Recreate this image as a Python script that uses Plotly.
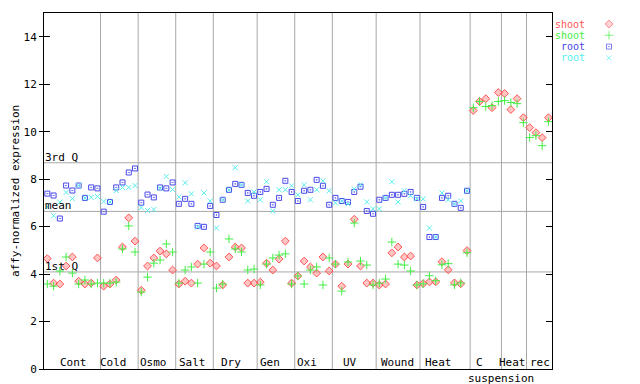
import plotly.graph_objects as go

# ---------------- data ----------------
groups = ["Cont", "Cold", "Osmo", "Salt", "Dry", "Gen", "Oxi", "UV", "Wound", "Heat", "C", "Heat", "rec"]
group_sizes = [9, 6, 6, 6, 7, 6, 6, 7, 7, 8, 5, 4, 4]

shoot_red = [
    4.65, 3.62, 3.58, 4.34, 4.72, 3.70, 3.58, 3.62, 4.68,
    3.49, 3.58, 3.75, 5.14, 6.37, 5.39,
    3.32, 4.34, 4.68, 4.97, 4.85, 4.17,
    3.58, 3.70, 3.62, 4.42, 5.10, 4.46,
    4.34, 3.54, 4.72, 5.14, 5.10, 3.62, 3.62,
    3.66, 4.46, 4.17, 4.63, 5.39, 3.62,
    3.92, 4.55, 4.30, 4.04, 4.72, 4.13,
    4.42, 3.49, 4.42, 6.31, 4.34, 3.62, 3.62,
    3.54, 3.58, 4.89, 5.14, 4.72, 4.76, 3.54,
    3.60, 3.67, 3.67, 4.52, 4.18, 3.63, 3.59, 4.99,
    10.89, 11.27, 11.39, 11.01, 11.65,
    11.61, 10.93, 11.39, 10.59,
    10.17, 9.96, 9.75, 10.59,
]
shoot_green = [
    3.58, 3.49, 4.13, 4.72, 4.04, 3.58, 3.75, 3.58, 3.62,
    3.62, 3.62, 3.66, 5.06, 6.03, 4.93,
    3.24, 3.87, 4.46, 4.59, 5.27, 4.93,
    3.62, 4.17, 4.30, 3.62, 4.42, 4.93,
    3.41, 3.58, 5.48, 5.06, 4.93, 4.17, 4.21,
    3.54, 4.42, 4.68, 4.80, 4.85, 3.58,
    3.92, 3.58, 4.17, 4.30, 3.54, 4.68,
    4.42, 3.28, 4.51, 6.15, 4.55, 4.38, 3.54,
    3.62, 3.79, 5.35, 4.42, 4.38, 4.13, 3.54,
    3.59, 3.93, 3.72, 4.39, 4.44, 3.55, 3.63, 4.90,
    11.01, 11.27, 11.06, 11.10, 11.27,
    11.31, 11.23, 11.18, 10.38,
    9.75, 9.83, 9.41, 10.42,
]
root_blue = [
    7.39, 7.31, 6.34, 7.73, 7.52, 7.73, 7.21, 7.65, 7.61,
    6.63, 7.04, 7.65, 7.86, 8.28, 8.45,
    7.01, 7.35, 7.23, 7.65, 7.61, 7.86,
    6.96, 7.17, 6.96, 6.03, 5.99, 6.87,
    6.49, 7.13, 7.55, 7.80, 7.76, 7.42, 7.30,
    7.46, 7.59, 6.92, 7.21, 7.93, 7.46,
    7.08, 7.51, 7.55, 7.97, 7.72, 6.92,
    7.21, 7.08, 7.04, 7.46, 7.68, 6.66, 6.54,
    7.13, 7.21, 7.34, 7.34, 7.38, 7.46, 7.21,
    6.83, 5.56, 5.56, 7.21, 7.30, 6.96, 6.79, 7.51,
]
root_cyan = [
    6.83, 6.46, 7.03, 7.44, 7.18, 7.73, 7.21, 7.23, 7.27,
    7.06, 7.04, 7.52, 7.65, 7.65, 7.73,
    6.80, 6.68, 6.72, 7.61, 8.11, 7.56,
    7.25, 7.85, 7.38, 5.99, 7.42, 7.08,
    5.94, 7.13, 7.55, 8.48, 7.76, 7.08, 7.46,
    7.13, 7.89, 6.66, 7.55, 7.55, 7.72,
    7.34, 7.76, 7.13, 7.55, 7.93, 7.51,
    7.00, 7.08, 6.96, 7.59, 7.76, 7.04, 6.75,
    6.75, 7.21, 7.89, 7.04, 7.51, 7.30, 7.17,
    7.17, 5.94, 5.56, 7.42, 7.13, 6.96, 7.08, 7.51,
]
stat_names = ["1st Q", "mean", "3rd Q"]
stat_values = [4.09, 6.64, 8.69]
series_names = ["shoot", "shoot", "root", "root"]
y_ticks = [0, 2, 4, 6, 8, 10, 12, 14]

# ---------------- styling ----------------
FONT = "DejaVu Sans Mono"
colors = ["#ff5555", "#44ee44", "#4848e8", "#55eeee"]
symbols = ["diamond", "cross-thin-open", "square-open-dot", "x-thin-open"]
fills = ["rgba(255,85,85,0.35)", "#44ee44", "#4848e8", "#55eeee"]
sizes = [6, 6, 5, 5]
label_x = [4.2, 10.55, 16.96, 23.14, 29.4, 35.54, 41.5, 48.3, 55.88, 62.5, 69.04, 74.25, 78.73]

# page has an 8px body margin: figure is 632x376 placed at (8,8)
OFF = 8
PLOT_L = 44 - OFF
PLOT_W = 508
PAPER_W = 632 - PLOT_L
xdom = PLOT_W / PAPER_W

fig = go.Figure()

all_series = [shoot_red, shoot_green, root_blue, root_cyan]
for vals, name, col, sym, fill, sz in zip(all_series, series_names, colors, symbols, fills, sizes):
    fig.add_trace(go.Scatter(
        x=list(range(len(vals))), y=vals, mode="markers", name=name,
        marker=dict(symbol=sym, size=sz, color=fill, line=dict(color=col, width=1)),
        showlegend=False, xaxis="x", yaxis="y",
    ))

# custom legend (text then marker on the right)
leg_rows = [-i for i in range(len(series_names))]
fig.add_trace(go.Scatter(
    x=[0] * len(series_names), y=leg_rows, mode="markers",
    marker=dict(symbol=symbols, size=sizes, color=fills, line=dict(color=colors, width=1)),
    showlegend=False, xaxis="x2", yaxis="y2", hoverinfo="skip",
))
# dummy trace for the overlay axis
fig.add_trace(go.Scatter(x=[], y=[], xaxis="x", yaxis="y3", showlegend=False))

shapes = []
annotations = []

# group separators
bounds = []
acc = 0
for s in group_sizes[:-1]:
    acc += s
    bounds.append(acc - 0.5)
for b in bounds:
    shapes.append(dict(type="line", xref="x", yref="y domain", x0=b, x1=b, y0=0, y1=1,
                       line=dict(color="#a8a8a8", width=1), layer="below"))
# quartile / mean lines
for nm, v in zip(stat_names, stat_values):
    shapes.append(dict(type="line", xref="x domain", yref="y", x0=0, x1=1, y0=v, y1=v,
                       line=dict(color="#a8a8a8", width=1), layer="below"))
    annotations.append(dict(text=nm, xref="x domain", yref="y", x=0, y=v, xanchor="left",
                            yanchor="bottom", showarrow=False, xshift=-1, yshift=-3,
                            font=dict(family=FONT, size=11, color="black")))

# group labels
for g, lx in zip(groups, label_x):
    annotations.append(dict(text=g, xref="x", yref="y", x=lx, y=0, xanchor="center",
                            yanchor="bottom", showarrow=False, yshift=-2,
                            font=dict(family=FONT, size=11, color="black")))
annotations.append(dict(text="suspension", xref="x", yref="y", x=bounds[-2], y=0, xanchor="center",
                        yanchor="top", showarrow=False, yshift=-1, height=12,
                        font=dict(family=FONT, size=11, color="black")))

# y title
annotations.append(dict(text="affy-normalized expression", xref="paper", yref="paper", x=0, y=0.5,
                        xanchor="center", yanchor="middle", textangle=-90, showarrow=False,
                        xshift=-29, borderpad=0, font=dict(family=FONT, size=11, color="black")))

# legend texts
for i, (nm, col) in enumerate(zip(series_names, colors)):
    annotations.append(dict(text=nm, xref="paper", yref="y2", x=(586 - 44) / PAPER_W, y=leg_rows[i],
                            xanchor="right", yanchor="middle", showarrow=False, borderpad=0,
                            font=dict(family=FONT, size=10, color=col)))

fig.update_layout(
    width=640 - OFF, height=384 - OFF,
    margin=dict(l=PLOT_L, r=0, t=13 - OFF, b=15, autoexpand=False),
    paper_bgcolor="white", plot_bgcolor="white",
    showlegend=False,
    font=dict(family=FONT, size=11, color="black"),
    xaxis=dict(domain=[0, xdom], range=[-0.53, 80.57], showline=True, linecolor="black",
               linewidth=1, mirror=True, ticks="", showticklabels=False, showgrid=False,
               zeroline=False),
    yaxis=dict(domain=[0, 1], range=[0, 15], showline=True, linecolor="black", linewidth=1,
               mirror="ticks", ticks="inside", ticklen=6, tickcolor="black", tickvals=y_ticks,
               showticklabels=False, showgrid=False, zeroline=False),
    yaxis3=dict(overlaying="y", anchor="x", side="left", range=[0, 15], ticks="outside",
                ticklen=4, tickcolor="black", tickvals=y_ticks, showline=False, showgrid=False,
                zeroline=False, tickfont=dict(family=FONT, size=11, color="black")),
    xaxis2=dict(domain=[(600 - 44) / PAPER_W, (618 - 44) / PAPER_W], range=[-1, 1], visible=False,
                anchor="y2"),
    yaxis2=dict(domain=[0, 1], range=[-30.53, 0.973], visible=False, anchor="x2"),
    shapes=shapes, annotations=annotations,
)

fig.write_html("out.html")
